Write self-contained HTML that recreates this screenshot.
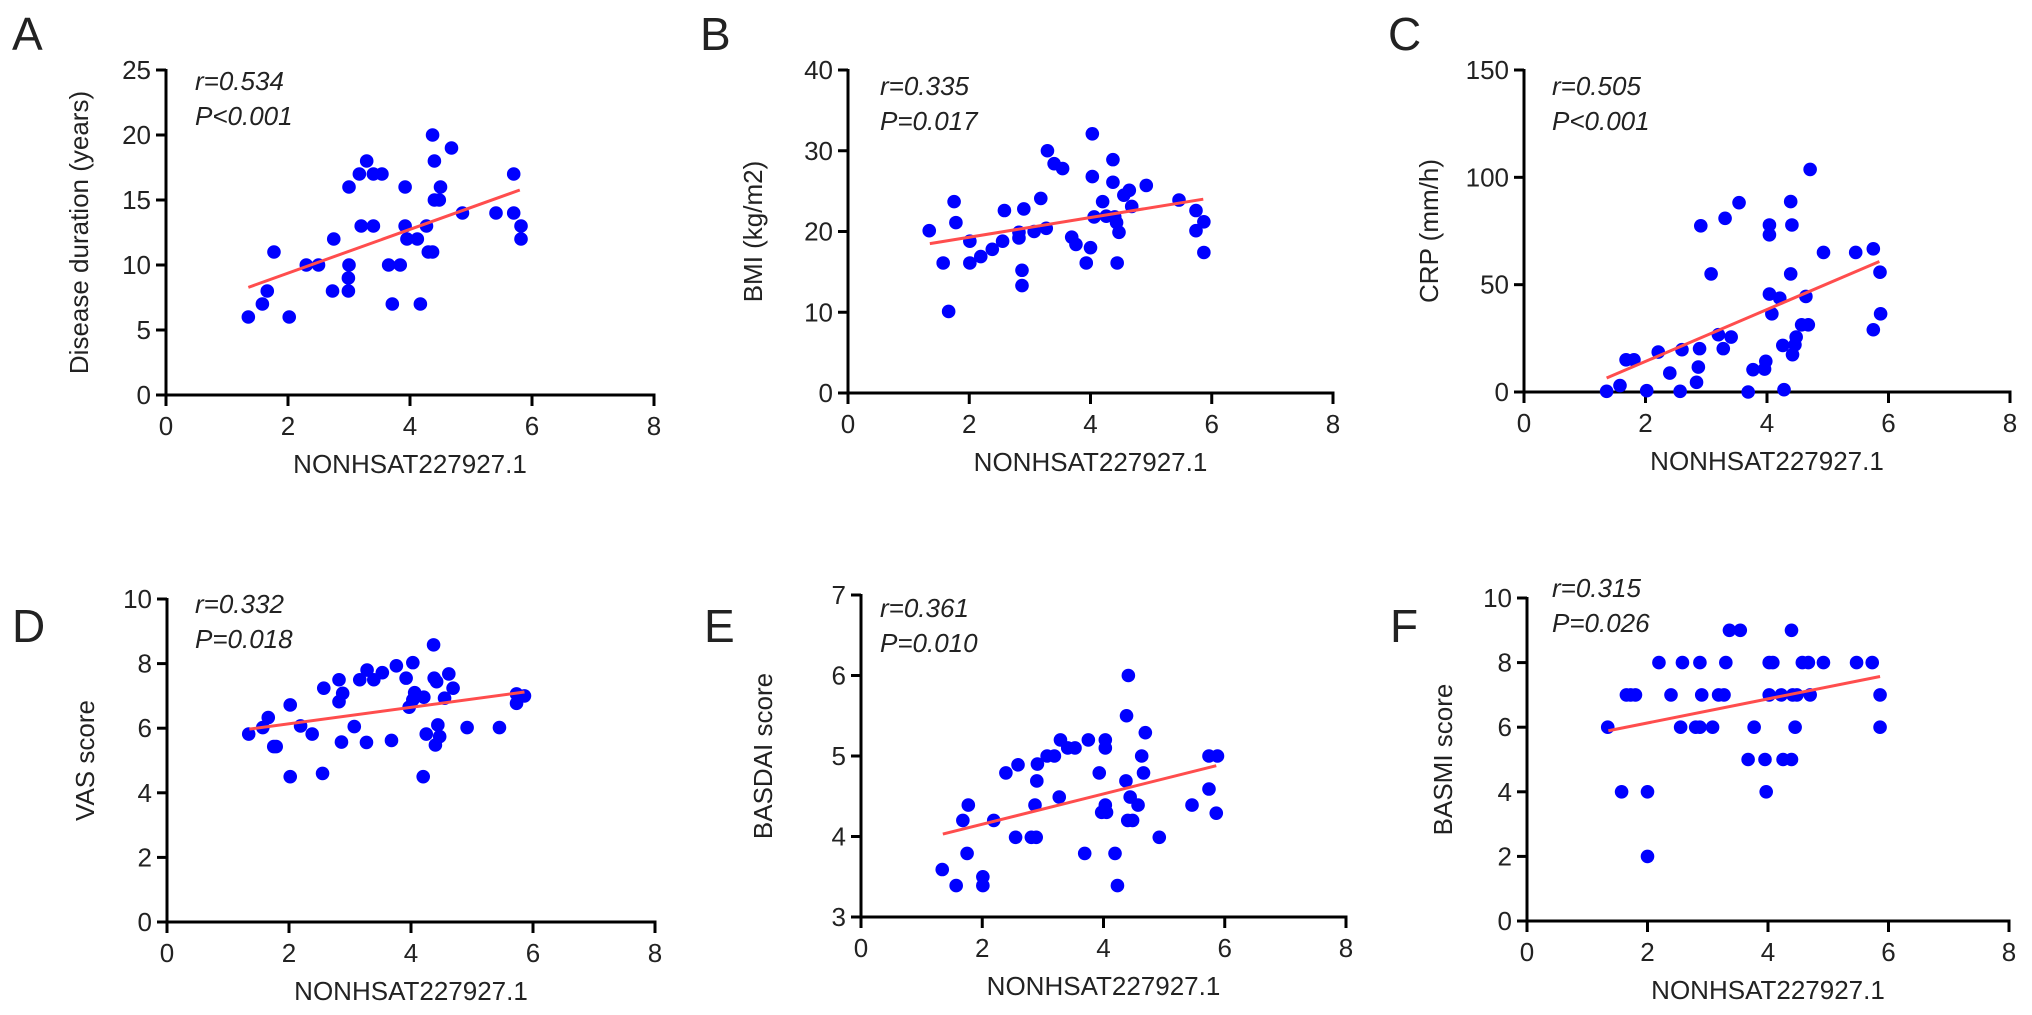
<!DOCTYPE html>
<html><head><meta charset="utf-8">
<style>
html,body{margin:0;padding:0;background:#fff;}
svg{display:block;}
text{font-family:"Liberation Sans",Arial,sans-serif;fill:#222;}
</style></head>
<body>
<svg id="fig" width="2032" height="1015" viewBox="0 0 2032 1015" xmlns="http://www.w3.org/2000/svg"></svg>
<script>
// ---- data ----
const aX=[1.35,1.58,1.66,1.77,2.02,2.3,2.5,2.73,2.75,2.99,2.99,3.0,3.0,3.2,3.4,3.17,3.29,3.40,3.54,3.71,3.65,3.84,3.92,3.92,3.95,4.12,4.27,4.3,4.37,4.17,4.4,4.48,4.5,4.37,4.4,4.68,4.86,5.41,5.7,5.7,5.82,5.82];
const aY=[6,7,8,11,6,10,10,8,12,8,9,10,16,13,13,17,18,17,17,7,10,10,16,13,12,12,13,11,11,7,15,15,16,20,18,19,14,14,14,17,13,12];
const aLine=[[1.35,8.28],[5.8,15.77]];

const bX=[1.34,1.57,1.66,1.75,1.78,2.01,2.01,2.19,2.38,2.55,2.58,2.82,2.82,2.87,2.87,2.9,3.07,3.18,3.27,3.29,3.40,3.54,3.69,3.76,3.93,4.0,4.03,4.03,4.06,4.2,4.26,4.37,4.37,4.4,4.43,4.44,4.47,4.55,4.64,4.68,4.92,5.46,5.74,5.74,5.87,5.87];
const bY=[20.1,16.1,10.1,23.7,21.1,18.8,16.1,16.9,17.8,18.8,22.6,19.9,19.2,15.2,13.3,22.8,20.0,24.1,20.4,30.0,28.4,27.8,19.3,18.4,16.1,18.0,32.1,26.8,21.8,23.7,21.9,28.9,26.1,21.8,21.1,16.1,19.9,24.5,25.1,23.1,25.7,23.9,22.6,20.1,21.2,17.4];
const bLine=[[1.35,18.5],[5.86,24.0]];

const cX=[1.36,1.58,1.68,1.81,2.02,2.21,2.4,2.57,2.6,2.84,2.87,2.89,2.91,3.08,3.2,3.28,3.31,3.41,3.54,3.69,3.77,3.96,3.98,4.04,4.04,4.04,4.08,4.21,4.26,4.28,4.39,4.41,4.39,4.42,4.46,4.48,4.57,4.68,4.64,4.71,4.93,5.46,5.75,5.75,5.86,5.87];
const cY=[0.3,3,15,15,0.6,18.6,8.8,0.3,19.7,4.5,11.6,20.2,77.4,55,26.7,20.2,80.9,25.6,88.2,0,10.4,10.7,14.3,77.8,73.2,45.6,36.4,43.7,21.7,1.1,88.7,77.8,55,17.4,22,25.6,31.3,31.3,44.5,103.7,65,65,66.7,29,55.8,36.4];
const cLine=[[1.36,6.5],[5.85,60.8]];

const dX=[1.34,1.57,1.66,1.75,1.79,2.02,2.02,2.19,2.38,2.55,2.57,2.82,2.82,2.88,2.86,3.07,3.16,3.27,3.28,3.39,3.53,3.68,3.76,3.92,3.97,4.03,4.03,4.06,4.21,4.2,4.25,4.37,4.38,4.42,4.44,4.47,4.40,4.55,4.62,4.69,4.92,5.45,5.73,5.73,5.86];
const dY=[5.82,6.02,6.33,5.43,5.43,6.72,4.5,6.07,5.82,4.6,7.24,7.5,6.82,7.08,5.57,6.05,7.5,5.56,7.8,7.5,7.72,5.62,7.93,7.55,6.65,8.03,6.88,7.1,6.96,4.5,5.82,8.58,7.55,7.44,6.1,5.74,5.48,6.93,7.68,7.24,6.02,6.02,6.77,7.06,7.0];
const dLine=[[1.35,5.97],[5.86,7.12]];

const eX=[1.34,1.57,1.68,1.77,1.75,2.01,2.01,2.19,2.39,2.55,2.59,2.81,2.89,2.87,2.9,2.91,3.07,3.19,3.27,3.29,3.41,3.53,3.69,3.75,3.93,4.03,4.03,4.03,3.97,4.05,4.19,4.23,4.37,4.38,4.41,4.44,4.4,4.48,4.57,4.63,4.66,4.69,4.92,5.46,5.74,5.74,5.88,5.86];
const eY=[3.59,3.39,4.2,4.39,3.79,3.5,3.39,4.2,4.79,3.99,4.89,3.99,3.99,4.39,4.69,4.9,5.0,5.0,4.49,5.2,5.1,5.1,3.79,5.2,4.79,5.2,5.1,4.39,4.3,4.3,3.79,3.39,4.69,5.5,6.0,4.49,4.2,4.2,4.39,5.0,4.79,5.29,3.99,4.39,4.59,5.0,5.0,4.29];
const eLine=[[1.35,4.03],[5.86,4.88]];

const fX=[1.34,1.57,1.65,1.72,1.8,2.0,2.0,2.19,2.39,2.55,2.58,2.8,2.87,2.87,2.9,3.08,3.18,3.27,3.3,3.36,3.54,3.67,3.77,3.95,3.97,4.02,4.02,4.08,4.22,4.25,4.39,4.39,4.41,4.48,4.45,4.57,4.67,4.7,4.92,5.47,5.73,5.86,5.86];
const fY=[6,4,7,7,7,4,2,8,7,6,8,6,6,8,7,6,7,7,8,9,9,5,6,5,4,7,8,8,7,5,5,9,7,7,6,8,8,7,8,8,8,7,6];
const fLine=[[1.35,5.89],[5.86,7.57]];

const xTickLabels=["0","2","4","6","8"];
const aTicks=[0,5,10,15,20,25];
const bTicks=[0,10,20,30,40];
const cTicks=[0,50,100,150];
const dTicks=[0,2,4,6,8,10];
const eTicks=[3,4,5,6,7];
const fTicks=[0,2,4,6,8,10];

// ---- drawing ----
const NS="http://www.w3.org/2000/svg";
const svg=document.getElementById('fig');
function mk(tag,attrs,parent){const e=document.createElementNS(NS,tag);for(const k in attrs)e.setAttribute(k,attrs[k]);(parent||svg).appendChild(e);return e;}

function panel(p){
  const g=mk('g',{});
  
  
  const sx=v=>p.xl+(v-0)/8*(p.xr-p.xl);
  const sy=v=>p.yb-(v-p.ymin)/(p.ymax-p.ymin)*(p.yb-p.yt);
  // letter
  const L=mk('text',{x:p.lx,y:p.ly,'font-size':46},g);L.textContent=p.id;
  
  
  // axes
  const ya=mk('line',{x1:p.xl,y1:p.yt-1,x2:p.xl,y2:p.yb,stroke:'#000','stroke-width':3},g);
  
  
  const xa=mk('line',{x1:p.xl-10,y1:p.yb,x2:p.xr+1.5,y2:p.yb,stroke:'#000','stroke-width':3},g);
  
  
  p.yticks.forEach(v=>{
    const y=sy(v);
    if(v!==p.ymin) mk('line',{x1:p.xl-10,y1:y,x2:p.xl,y2:y,stroke:'#000','stroke-width':3},g);
    const t=mk('text',{x:p.xl-15,y:y+9,'font-size':26,'text-anchor':'end'},g);t.textContent=String(v);
    
    
  });
  xTickLabels.forEach((s,i)=>{
    const x=sx(i*2);
    mk('line',{x1:x,y1:p.yb,x2:x,y2:p.yb+11,stroke:'#000','stroke-width':3},g);
    const t=mk('text',{x:x,y:p.yb+40,'font-size':26,'text-anchor':'middle'},g);t.textContent=s;
    
    
  });
  const xt=mk('text',{x:(p.xl+p.xr)/2,y:p.yb+78,'font-size':26,'text-anchor':'middle'},g);xt.textContent='NONHSAT227927.1';
  
  
  const ycy=(p.yt+p.yb)/2;
  const yt=mk('text',{x:p.ylx,y:ycy,'font-size':26,'text-anchor':'middle',transform:`rotate(-90 ${p.ylx} ${ycy})`},g);yt.textContent=p.ylabel;
  
  
  // stats
  const r=mk('text',{x:p.ax,y:p.ay,'font-size':26,'font-style':'italic',fill:'#333'},g);r.textContent=p.r;
  
  
  const pv=mk('text',{x:p.ax,y:p.ay+35,'font-size':26,'font-style':'italic',fill:'#333'},g);pv.textContent=p.p;
  
  
  // points
  p.xs.forEach((xv,i)=>{
    const c=mk('circle',{cx:sx(xv),cy:sy(p.ys[i]),r:6.8,fill:'#0000ff'},g);
    
    
  });
  // regression line
  const ln=mk('line',{x1:sx(p.line[0][0]),y1:sy(p.line[0][1]),x2:sx(p.line[1][0]),y2:sy(p.line[1][1]),stroke:'#ff4d4d','stroke-width':3},g);
  
  
}

panel({id:'A',xl:166,xr:654,yb:395,yt:70,ymin:0,ymax:25,yticks:aTicks,xs:aX,ys:aY,line:aLine,lx:12,ly:50,ylx:88,ylabel:'Disease duration (years)',ax:195,ay:90,r:'r=0.534',p:'P<0.001'});
panel({id:'B',xl:848,xr:1333,yb:393,yt:70,ymin:0,ymax:40,yticks:bTicks,xs:bX,ys:bY,line:bLine,lx:700,ly:50,ylx:762,ylabel:'BMI (kg/m2)',ax:880,ay:95,r:'r=0.335',p:'P=0.017'});
panel({id:'C',xl:1524,xr:2010,yb:392,yt:70,ymin:0,ymax:150,yticks:cTicks,xs:cX,ys:cY,line:cLine,lx:1388,ly:50,ylx:1438,ylabel:'CRP (mm/h)',ax:1552,ay:95,r:'r=0.505',p:'P<0.001'});
panel({id:'D',xl:167,xr:655,yb:922,yt:599,ymin:0,ymax:10,yticks:dTicks,xs:dX,ys:dY,line:dLine,lx:12,ly:642,ylx:94,ylabel:'VAS score',ax:195,ay:613,r:'r=0.332',p:'P=0.018'});
panel({id:'E',xl:861,xr:1346,yb:917,yt:595,ymin:3,ymax:7,yticks:eTicks,xs:eX,ys:eY,line:eLine,lx:704,ly:642,ylx:772,ylabel:'BASDAI score',ax:880,ay:617,r:'r=0.361',p:'P=0.010'});
panel({id:'F',xl:1527,xr:2009,yb:921,yt:598,ymin:0,ymax:10,yticks:fTicks,xs:fX,ys:fY,line:fLine,lx:1390,ly:642,ylx:1452,ylabel:'BASMI score',ax:1552,ay:597,r:'r=0.315',p:'P=0.026'});
</script>
</body></html>
